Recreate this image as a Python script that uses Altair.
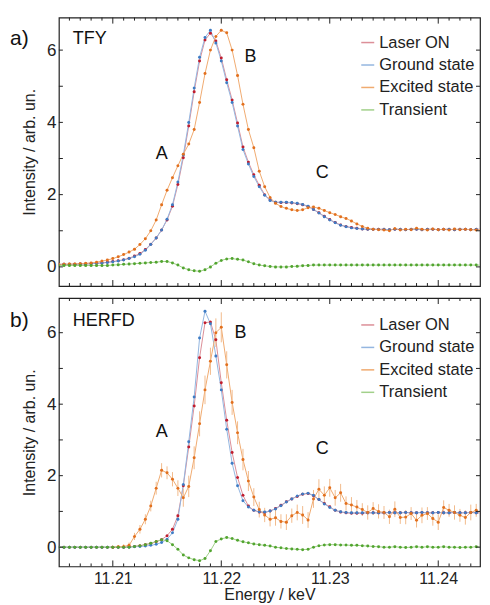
import altair as alt
import pandas as pd

FONT = "Liberation Sans"

energy = [
    11.2050, 11.2055, 11.2060, 11.2065, 11.2070, 11.2075, 11.2080, 11.2085, 11.2090, 11.2095,
    11.2100, 11.2105, 11.2110, 11.2115, 11.2120, 11.2125, 11.2130, 11.2135, 11.2140, 11.2145,
    11.2150, 11.2155, 11.2160, 11.2165, 11.2170, 11.2175, 11.2180, 11.2185, 11.2190, 11.2195,
    11.2200, 11.2205, 11.2210, 11.2215, 11.2220, 11.2225, 11.2230, 11.2235, 11.2240, 11.2245,
    11.2250, 11.2255, 11.2260, 11.2265, 11.2270, 11.2275, 11.2280, 11.2285, 11.2290, 11.2295,
    11.2300, 11.2305, 11.2310, 11.2315, 11.2320, 11.2325, 11.2330, 11.2335, 11.2340, 11.2345,
    11.2350, 11.2355, 11.2360, 11.2365, 11.2370, 11.2375, 11.2380, 11.2385, 11.2390, 11.2395,
    11.2400, 11.2405, 11.2410, 11.2415, 11.2420, 11.2425, 11.2430, 11.2435, 11.2440, 11.2445,
    11.2450,
]

# ---- panel a) TFY ----
tfy_laser = [
    0.07, 0.07, 0.07, 0.07, 0.08, 0.08, 0.09, 0.10, 0.11, 0.13,
    0.15, 0.17, 0.20, 0.24, 0.30, 0.37, 0.48, 0.63, 0.80, 1.02,
    1.30, 1.68, 2.28, 3.02, 3.90, 4.85, 5.70, 6.28, 6.47, 6.25,
    5.78, 5.18, 4.62, 3.98, 3.32, 2.90, 2.55, 2.26, 2.00, 1.85,
    1.79, 1.78, 1.78, 1.77, 1.75, 1.72, 1.67, 1.59, 1.50, 1.40,
    1.31, 1.23, 1.16, 1.12, 1.09, 1.07, 1.05, 1.04, 1.04, 1.04,
    1.04, 1.03, 1.04, 1.04, 1.03, 1.04, 1.04, 1.03, 1.04, 1.04,
    1.03, 1.04, 1.04, 1.03, 1.04, 1.04, 1.03, 1.04, 1.04, 1.03,
    1.04,
]
tfy_ground = [
    0.07, 0.07, 0.07, 0.07, 0.08, 0.08, 0.09, 0.10, 0.11, 0.12,
    0.14, 0.16, 0.19, 0.23, 0.28, 0.35, 0.46, 0.62, 0.80, 1.02,
    1.32, 1.72, 2.35, 3.10, 4.00, 4.95, 5.80, 6.35, 6.55, 6.20,
    5.70, 5.10, 4.55, 3.90, 3.25, 2.85, 2.50, 2.22, 1.98, 1.84,
    1.79, 1.79, 1.79, 1.78, 1.76, 1.73, 1.68, 1.59, 1.49, 1.39,
    1.30, 1.22, 1.15, 1.11, 1.08, 1.06, 1.05, 1.04, 1.04, 1.04,
    1.04, 1.03, 1.04, 1.04, 1.03, 1.04, 1.04, 1.03, 1.04, 1.04,
    1.03, 1.04, 1.04, 1.03, 1.04, 1.04, 1.03, 1.04, 1.04, 1.03,
    1.04,
]
tfy_excited = [
    0.07, 0.07, 0.08, 0.08, 0.09, 0.10, 0.11, 0.13, 0.16, 0.19,
    0.23, 0.28, 0.34, 0.41, 0.49, 0.62, 0.78, 1.00, 1.30, 1.72,
    2.12, 2.47, 2.80, 3.12, 3.40, 3.80, 4.55, 5.35, 6.00, 6.38,
    6.55, 6.48, 6.00, 5.30, 4.50, 3.80, 3.30, 2.65, 2.22, 1.92,
    1.76, 1.67, 1.62, 1.58, 1.56, 1.58, 1.64, 1.66, 1.62, 1.56,
    1.50, 1.45, 1.39, 1.34, 1.27, 1.19, 1.12, 1.07, 1.04, 1.03,
    1.02, 1.00, 1.06, 1.02, 1.04, 1.03, 1.07, 1.04, 1.02, 1.05,
    1.03, 1.04, 1.02, 1.05, 1.03, 1.04, 1.03, 1.02, 1.04, 1.03,
    1.03,
]
tfy_transient = [
    0.04, 0.04, 0.04, 0.04, 0.04, 0.04, 0.04, 0.04, 0.04, 0.04,
    0.05, 0.06, 0.07, 0.08, 0.09, 0.10, 0.11, 0.12, 0.13, 0.15,
    0.15, 0.11, 0.05, -0.03, -0.08, -0.11, -0.12, -0.08, 0.00, 0.10,
    0.18, 0.22, 0.23, 0.21, 0.19, 0.14, 0.09, 0.05, 0.03, 0.01,
    0.00, 0.00, 0.00, 0.01, 0.02, 0.03, 0.04, 0.05, 0.05, 0.05,
    0.05, 0.05, 0.05, 0.05, 0.05, 0.05, 0.05, 0.05, 0.05, 0.05,
    0.05, 0.05, 0.05, 0.05, 0.05, 0.05, 0.05, 0.05, 0.05, 0.05,
    0.05, 0.05, 0.05, 0.05, 0.05, 0.05, 0.05, 0.05, 0.05, 0.05,
    0.05,
]

# ---- panel b) HERFD ----
herfd_laser = [
    0.00, 0.00, 0.00, 0.00, 0.00, 0.00, 0.00, 0.00, 0.00, 0.00,
    0.00, 0.00, 0.00, 0.01, 0.02, 0.04, 0.07, 0.10, 0.15, 0.21,
    0.32, 0.50, 0.88, 1.72, 2.80, 3.95, 5.30, 6.28, 6.30, 5.80,
    4.60, 3.55, 2.65, 1.95, 1.45, 1.15, 1.03, 0.98, 0.97, 1.01,
    1.08, 1.17, 1.27, 1.35, 1.42, 1.48, 1.50, 1.44, 1.33, 1.22,
    1.13, 1.03, 0.98, 0.96, 0.95, 0.95, 0.95, 0.96, 0.96, 0.96,
    0.96, 0.97, 0.96, 0.96, 0.97, 0.96, 0.96, 0.97, 0.96, 0.96,
    0.97, 0.96, 0.96, 0.97, 0.96, 0.96, 0.97, 0.96, 0.96, 0.97,
    0.96,
]
herfd_ground = [
    0.00, 0.00, 0.00, 0.00, 0.00, 0.00, 0.00, 0.00, 0.00, 0.00,
    0.00, 0.00, 0.00, 0.00, 0.01, 0.02, 0.03, 0.05, 0.08, 0.13,
    0.22, 0.40, 0.78, 1.75, 2.95, 4.20, 5.85, 6.60, 6.25, 5.35,
    4.40, 3.30, 2.35, 1.72, 1.30, 1.12, 1.03, 0.99, 0.98, 1.01,
    1.07, 1.16, 1.26, 1.35, 1.43, 1.49, 1.51, 1.45, 1.33, 1.21,
    1.11, 1.03, 0.99, 0.97, 0.96, 0.96, 0.96, 0.96, 0.96, 0.96,
    0.96, 0.97, 0.96, 0.96, 0.97, 0.96, 0.96, 0.97, 0.96, 0.96,
    0.97, 0.96, 0.96, 0.97, 0.96, 0.96, 0.97, 0.96, 0.96, 0.97,
    0.96,
]
herfd_excited = [
    None, None, None, None, None, None, None, None, None, None,
    0.00, 0.01, 0.02, 0.05, 0.30, 0.50, 0.78, 1.15, 1.65, 2.15,
    2.08, 1.90, 1.65, 1.38, 1.70, 2.50, 3.45, 4.40, 5.20, 6.00,
    6.15, 5.10, 4.05, 3.20, 2.45, 1.85, 1.40, 1.05, 0.90, 0.78,
    0.82, 0.72, 0.70, 0.88, 0.97, 0.90, 0.76, 1.35, 1.62, 1.45,
    1.66, 1.38, 1.52, 1.22, 1.18, 1.12, 1.05, 0.97, 1.08, 1.00,
    0.97, 0.85, 1.06, 0.83, 0.84, 0.94, 0.75, 0.89, 0.94, 0.80,
    0.70, 1.11, 1.03, 0.97, 0.89, 0.83, 0.97, 1.03, 0.94, 0.80,
    1.03,
]
herfd_excited_err = [
    None, None, None, None, None, None, None, None, None, None,
    0.05, 0.05, 0.06, 0.08, 0.10, 0.12, 0.14, 0.15, 0.18, 0.20,
    0.18, 0.20, 0.22, 0.25, 0.30, 0.32, 0.35, 0.40, 0.38, 0.40,
    0.42, 0.38, 0.35, 0.32, 0.30, 0.28, 0.25, 0.22, 0.20, 0.20,
    0.22, 0.20, 0.22, 0.20, 0.22, 0.25, 0.22, 0.25, 0.28, 0.25,
    0.25, 0.22, 0.25, 0.20, 0.22, 0.20, 0.18, 0.20, 0.18, 0.20,
    0.18, 0.20, 0.22, 0.18, 0.20, 0.18, 0.20, 0.22, 0.18, 0.20,
    0.22, 0.20, 0.18, 0.20, 0.18, 0.20, 0.22, 0.18, 0.20, 0.22,
    0.20,
]
herfd_transient = [
    0.00, 0.00, 0.00, 0.00, 0.00, 0.00, 0.00, 0.00, 0.00, 0.00,
    0.00, 0.00, 0.00, 0.00, 0.02, 0.04, 0.07, 0.11, 0.16, 0.21,
    0.18, 0.07, -0.06, -0.22, -0.30, -0.35, -0.38, -0.32, -0.10, 0.16,
    0.23, 0.27, 0.24, 0.19, 0.15, 0.12, 0.09, 0.07, 0.05, 0.03,
    0.00, -0.02, -0.04, -0.05, -0.06, -0.07, -0.06, 0.00, 0.04, 0.06,
    0.07, 0.07, 0.06, 0.06, 0.05, 0.05, 0.04, 0.03, 0.02, 0.01,
    0.00, 0.00, 0.01, 0.00, -0.01, 0.00, 0.01, 0.00, 0.01, 0.00,
    0.00, 0.01, 0.00, 0.00, -0.01, 0.00, 0.00, 0.01, 0.00, 0.00,
    0.01,
]

series_names = ["Laser ON", "Ground state", "Excited state", "Transient"]
series_keys = ["laser", "ground", "excited", "transient"]
dot_colors = ["#c01d2e", "#3e7cc5", "#e2701e", "#52a530"]
line_colors = ["#dc8f98", "#94b6e0", "#f0ab70", "#a2d08a"]
err_color = "#f2bb8c"

x_labels = [11.21, 11.22, 11.23, 11.24]
x_minor_ticks = [11.206, 11.207, 11.208, 11.209, 11.211, 11.212, 11.213, 11.214, 11.215,
                 11.216, 11.217, 11.218, 11.219, 11.221, 11.222, 11.223, 11.224, 11.225,
                 11.226, 11.227, 11.228, 11.229, 11.231, 11.232, 11.233, 11.234, 11.235,
                 11.236, 11.237, 11.238, 11.239, 11.241, 11.242, 11.243]
y_labels = [0, 2, 4, 6]
y_ticks = [0, 1, 2, 3, 4, 5, 6]

W, H = 422, 269
XDOM = [11.20503, 11.24385]


def make_panel(vals, err, ydom, tag, method, tag_y, ann, leg_y, show_x):
    data = {"E": energy}
    for k, v in zip(series_keys, vals):
        data[k] = v
    df = pd.DataFrame(data)
    xscale = alt.Scale(domain=XDOM, nice=False, zero=False)
    yscale = alt.Scale(domain=ydom, nice=False, zero=False)
    if show_x:
        xaxis = alt.Axis(values=x_labels, format=".2f", title="Energy / keV", tickSize=0,
                         domain=False, grid=False, labelPadding=4, titlePadding=0,
                         labelFontSize=16, titleFontSize=16)
    else:
        xaxis = None
    yaxis = alt.Axis(values=y_labels, format="d", title="Intensity / arb. un.", tickSize=0,
                     domain=False, grid=False, labelPadding=3, titlePadding=9,
                     labelFontSize=17, titleFontSize=16)

    def X(f):
        return alt.X(f, type="quantitative", scale=xscale, axis=xaxis)

    def Y(f):
        return alt.Y(f, type="quantitative", scale=yscale, axis=yaxis)

    base = alt.Chart(df)
    layers = []
    for k, lc in zip(series_keys, line_colors):
        layers.append(base.mark_line(color=lc, strokeWidth=1, clip=True).encode(x=X("E"), y=Y(k)))
    if err is not None:
        edf = pd.DataFrame({"E": energy, "v": vals[2], "e": err})
        edf["lo"] = edf["v"] - edf["e"]
        edf["hi"] = edf["v"] + edf["e"]
        layers.append(alt.Chart(edf).mark_rule(color=err_color, strokeWidth=1, clip=True).encode(
            x=X("E"), y=Y("lo"), y2=alt.Y2("hi")))
    for k, dc in zip(series_keys, dot_colors):
        layers.append(base.mark_circle(color=dc, size=9, opacity=1, clip=True).encode(x=X("E"), y=Y(k)))

    # inward ticks on all four sides
    tmin = alt.Chart(pd.DataFrame({"t": x_minor_ticks}))
    tmaj = alt.Chart(pd.DataFrame({"t": x_labels}))
    ty = alt.Chart(pd.DataFrame({"t": y_ticks}))
    tc = "#222222"
    layers += [
        tmin.mark_rule(color=tc, strokeWidth=1).encode(x=X("t"), y=alt.value(H), y2=alt.value(H - 3)),
        tmin.mark_rule(color=tc, strokeWidth=1).encode(x=X("t"), y=alt.value(0), y2=alt.value(3)),
        tmaj.mark_rule(color=tc, strokeWidth=1).encode(x=X("t"), y=alt.value(H), y2=alt.value(H - 6)),
        tmaj.mark_rule(color=tc, strokeWidth=1).encode(x=X("t"), y=alt.value(0), y2=alt.value(6)),
        ty.mark_rule(color=tc, strokeWidth=1).encode(y=Y("t"), x=alt.value(0), x2=alt.value(4)),
        ty.mark_rule(color=tc, strokeWidth=1).encode(y=Y("t"), x=alt.value(W - 4), x2=alt.value(W)),
    ]

    # legend
    for i, (name, lc) in enumerate(zip(series_names, line_colors)):
        ld = alt.Chart(pd.DataFrame({"label": [name]}))
        layers.append(ld.mark_rule(color=lc, strokeWidth=1.5).encode(
            x=alt.value(303), x2=alt.value(316), y=alt.value(leg_y[i])))
        layers.append(ld.mark_text(align="left", baseline="middle", font=FONT, fontSize=16.5,
                                   color="#222222").encode(
            x=alt.value(321), y=alt.value(leg_y[i]), text="label:N"))

    # panel tag, method, peak letters
    layers.append(alt.Chart(pd.DataFrame({"label": [tag]})).mark_text(
        align="left", baseline="middle", font=FONT, fontSize=21, color="#111111").encode(
        x=alt.value(-49), y=alt.value(tag_y), text="label:N"))
    layers.append(alt.Chart(pd.DataFrame({"label": [method]})).mark_text(
        align="left", baseline="middle", font=FONT, fontSize=18, color="#111111").encode(
        x=alt.value(14), y=alt.value(tag_y), text="label:N"))
    for letter, (px, py) in ann:
        layers.append(alt.Chart(pd.DataFrame({"label": [letter]})).mark_text(
            align="center", baseline="middle", font=FONT, fontSize=18, color="#111111").encode(
            x=alt.value(px), y=alt.value(py), text="label:N"))

    return alt.layer(*layers).properties(width=W, height=H)


panel_a = make_panel([tfy_laser, tfy_ground, tfy_excited, tfy_transient], None,
                     [-0.53, 6.9], "a)", "TFY", 21.5,
                     [("A", (103, 137)), ("B", (192, 39)), ("C", (264, 156))],
                     [25, 47.5, 70, 92.5], False)
panel_b = make_panel([herfd_laser, herfd_ground, herfd_excited, herfd_transient], herfd_excited_err,
                     [-0.54, 6.97], "b)", "HERFD", 23.5,
                     [("A", (103, 134)), ("B", (182, 35)), ("C", (264, 151))],
                     [27, 49.5, 72, 94.5], True)

chart = alt.vconcat(panel_a, panel_b, spacing=8).properties(
    padding={"left": 1, "top": 7, "right": 0, "bottom": 0}
).configure_view(
    stroke="#222222", strokeWidth=1.2
).configure_axis(
    labelFont=FONT, titleFont=FONT,
    labelColor="#222222", titleColor="#222222", titleFontWeight="normal"
)

chart.save("out.html", embed_options={"renderer": "svg", "actions": False})
